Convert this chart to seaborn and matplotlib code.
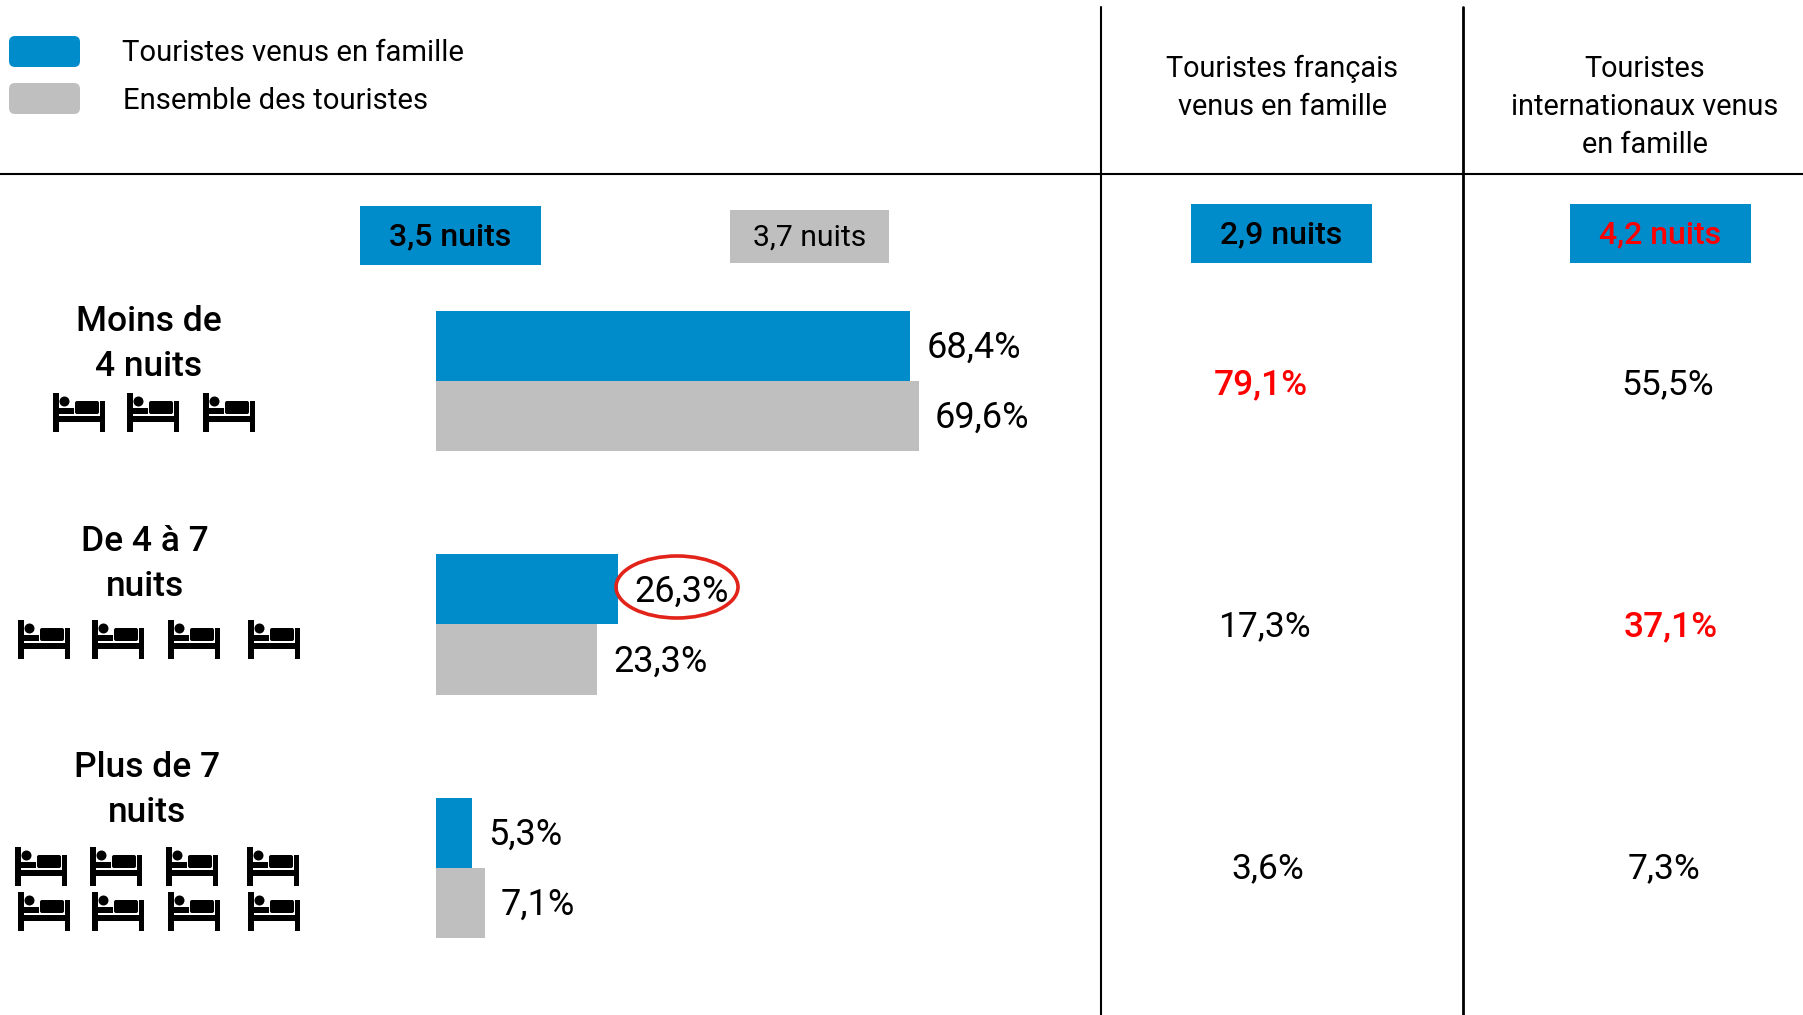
import pandas as pd
import seaborn as sns
from matplotlib import pyplot as plt
from matplotlib.patches import Circle, Ellipse, FancyBboxPatch, Rectangle

# data
durations = ["Moins de 4 nuits", "De 4 à 7 nuits", "Plus de 7 nuits"]
famille = [68.4, 26.3, 5.3]
ensemble = [69.6, 23.3, 7.1]
series_names = ["Touristes venus en famille", "Ensemble des touristes"]
francais = ["79,1%", "17,3%", "3,6%"]
internationaux = ["55,5%", "37,1%", "7,3%"]
nuits = ["3,5 nuits", "3,7 nuits", "2,9 nuits", "4,2 nuits"]

BLUE = "#008BCB"
GREY = "#BFBFBF"
RED = "#FF0000"
FONT = "Roboto"

sns.set_theme(style="white")
plt.rcParams["font.family"] = FONT

W, H = 1803, 1015
fig = plt.figure(figsize=(W / 100, H / 100), dpi=100)

#%% bars, the axes fills the figure and is scaled to fit the row spacing
ax = fig.add_axes([0, 0, 1, 1])
table = pd.DataFrame({
    "duree": durations * 2,
    "part": famille + ensemble,
    "serie": [series_names[0]] * 3 + [series_names[1]] * 3,
})
sns.barplot(
    data=table, y="duree", x="part", hue="serie", order=durations,
    palette=[BLUE, GREY], width=0.575, gap=0, saturation=1, legend=False,
    linewidth=0, ax=ax,
)
px_per_unit = 6.94
ax.set_xlim(-435.7 / px_per_unit, (W - 435.7) / px_per_unit)
ax.set_ylim((H - 381) / 243.5, -381 / 243.5)
ax.axis("off")

for container, values in zip(ax.containers, [famille, ensemble]):
    labels = ax.bar_label(
        container, labels=[f"{v:.1f}%".replace(".", ",") for v in values],
        padding=11.5, fontsize=26, color="black", fontfamily=FONT,
    )
    for label in labels:
        label.xyann = (11.5, -1.5)

#%% everything else, drawn in pixel coordinates
over = fig.add_axes([0, 0, 1, 1])
over.set_xlim(0, W)
over.set_ylim(H, 0)
over.axis("off")
over.patch.set_alpha(0)


def put_lines(x, y, lines, step=38, fontsize=20.8, fontweight="normal"):
    for i, line in enumerate(lines):
        over.text(x, y + i * step, line, ha="center", va="center", color="black",
                  fontsize=fontsize, fontweight=fontweight)


def draw_bed(x, y):
    # x, y is the top left corner of the head post
    def r(x0, y0, w, h):
        over.add_patch(Rectangle((x + x0, y + y0), w, h, color="black", lw=0))
    r(0, 0, 5.5, 38.5)
    r(46.5, 8, 5.5, 30.5)
    r(0, 22.5, 52, 6.5)
    r(6, 15, 15, 5.5)
    over.add_patch(FancyBboxPatch(
        (x + 24, y + 10), 20, 9, boxstyle="round,pad=2,rounding_size=2", color="black", lw=0,
    ))
    over.add_patch(Circle((x + 11.5, y + 8.5), 5, color="black", lw=0))


def rounded(x0, y0, x1, y1, color):
    over.add_patch(FancyBboxPatch(
        (x0 + 6, y0 + 6), x1 - x0 - 12, y1 - y0 - 12,
        boxstyle="round,pad=6,rounding_size=6", color=color, lw=0,
    ))


# legend
rounded(9, 36, 80, 67, BLUE)
rounded(9, 83, 80, 114, GREY)
over.text(122, 52.5, series_names[0], ha="left", va="center", fontsize=21.1, color="black")
over.text(123, 100.5, series_names[1], ha="left", va="center", fontsize=21.1, color="black")

# table rules
over.plot([0, W], [174, 174], color="black", lw=1.5)
over.plot([1100.5, 1100.5], [7, H], color="black", lw=1.5)
over.plot([1463, 1463], [7, H], color="black", lw=2)

# column headers
put_lines(1282, 69, ["Touristes français", "venus en famille"])
put_lines(1645, 69, ["Touristes", "internationaux venus", "en famille"])

# mean stay boxes
boxes = [(360, 206, 541, 265), (730, 210, 889, 263), (1191, 204, 1372, 263), (1570, 204, 1751, 263)]
for (x0, y0, x1, y1), label, col, tcol, weight, size in zip(
    boxes, nuits, [BLUE, GREY, BLUE, BLUE], ["black", "black", "black", RED],
    ["medium", "normal", "medium", "medium"], [23, 21.7, 23, 23],
):
    over.add_patch(Rectangle((x0, y0), x1 - x0, y1 - y0, color=col, lw=0))
    over.text((x0 + x1) / 2, (y0 + y1) / 2 + 1, label, ha="center", va="center",
              fontsize=size, color=tcol, fontweight=weight)

# row labels
put_lines(149, 321.5, ["Moins de", "4 nuits"], step=45, fontsize=25.5, fontweight="medium")
put_lines(145, 541.5, ["De 4 à 7", "nuits"], step=45, fontsize=25.5, fontweight="medium")
put_lines(147, 767.5, ["Plus de 7", "nuits"], step=45, fontsize=25.5, fontweight="medium")

# beds
for bx in [53, 127, 203]:
    draw_bed(bx, 393)
for bx in [18, 92, 168, 248]:
    draw_bed(bx, 620)
for bx in [15, 90, 166, 247]:
    draw_bed(bx, 847)
for bx in [18, 92, 168, 248]:
    draw_bed(bx, 892)

# right columns
col_x = [[1261, 1264, 1268], [1668, 1671, 1664]]
col_y = [385, 627, 869]
highlight = {(0, 0), (1, 1)}
for c, col in enumerate([francais, internationaux]):
    for i, label in enumerate(col):
        hl = (c, i) in highlight
        over.text(col_x[c][i], col_y[i], label, ha="center", va="center", fontsize=25.5,
                  color=RED if hl else "black", fontweight="medium" if hl else "normal")

# circle around the 26,3%
over.add_patch(Ellipse((677, 587), 122, 62, fill=False, edgecolor="#E2231A", lw=2.6))

fig.savefig("out.png", dpi=100)
plt.close(fig)
